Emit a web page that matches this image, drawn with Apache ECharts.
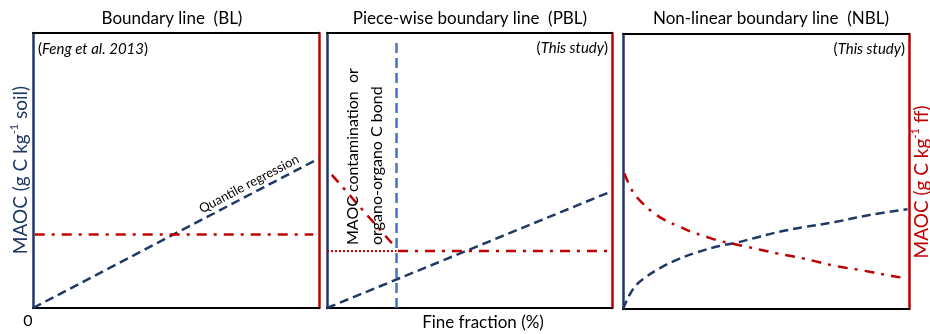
<!DOCTYPE html>
<html>
<head>
<meta charset="utf-8">
<script src="https://cdn.jsdelivr.net/npm/echarts@6/dist/echarts.min.js"></script>
<style>html,body{margin:0;padding:0;background:#fff}#c{width:930px;height:334px}</style>
</head>
<body>
<div id="c"></div>
<script>
// ---- Data (relative units 0-100 on both axes in each panel) ----
const panelTitles = ['Boundary line  (BL)', 'Piece-wise boundary line  (PBL)', 'Non-linear boundary line  (NBL)'];
const xAxisLabel = 'Fine fraction (%)';
const originLabel = '0';

// Panel 1: BL
const bl_quantile = [[0, 0], [100, 54.4]];
const bl_red = [[0.6, 26.7], [98, 26.7]];

// Panel 2: PBL
const pbl_blue = [[0, 0], [100, 42.5]];
const pbl_vertical = [[24.4, 0], [24.4, 96.7]];
const pbl_redDotted = [[0, 20.7], [24.4, 20.7]];
const pbl_redDiag = [[1.7, 48.4], [23.9, 22.2]];
const pbl_redFlat = [[24.9, 20.7], [100, 20.7]];

// Panel 3: NBL
const nbl_blue = [[0, 0], [2.3, 5.1], [4.6, 8.7], [8.1, 11.7], [12.8, 14.8], [18.6, 17.8], [25.6, 20.5], [33.7, 22.9], [39.6, 24.1], [47.7, 26.3], [54.7, 28.1], [62.9, 29.7], [74.5, 31.7], [86.2, 34.2], [99.5, 36.3]];
const nbl_red = [[0.5, 49.3], [3.4, 42.7], [6.9, 38.4], [10.4, 35.2], [14.5, 32.4], [19.2, 30.2], [23.8, 28.1], [28.5, 26.5], [33.7, 24.8], [43.1, 22.7], [53.6, 20.3], [62.9, 18.4], [74.5, 15.6], [82.7, 14.2], [92.6, 12.3], [97, 11.5]];

// ---- Styles ----
const NAVY = '#1f3864', RED = '#c00000', LBLUE = '#4472c4', BLACK = '#000';
const FONT = 'Lato, "Open Sans", sans-serif';
const DASH = [9, 5], DASHDOT = [10, 7, 3, 7], DOT = [2, 2];

const grids = [
  { left: 33, top: 33, width: 286, height: 275 },
  { left: 327, top: 33, width: 285, height: 275 },
  { left: 623, top: 34, width: 286, height: 275 }
];

const xAxes = [], yAxes = [];
grids.forEach((g, i) => {
  const base = { min: 0, max: 100, axisTick: { show: false }, axisLabel: { show: false }, splitLine: { show: false }, gridIndex: i };
  const al = (c, w) => ({ show: true, onZero: false, lineStyle: { color: c, width: w } });
  xAxes.push(Object.assign({ type: 'value', position: 'bottom', axisLine: al(BLACK, 2) }, base));
  xAxes.push(Object.assign({ type: 'value', position: 'top', axisLine: al(BLACK, 2) }, base));
  yAxes.push(Object.assign({ type: 'value', position: 'left', axisLine: al(NAVY, 2.5) }, base));
  yAxes.push(Object.assign({ type: 'value', position: 'right', axisLine: al(RED, 2.5) }, base));
});

function line(data, panel, color, type, width, smooth) {
  return {
    type: 'line', data: data, xAxisIndex: panel * 2, yAxisIndex: panel * 2,
    symbol: 'none', smooth: smooth || false, clip: false, silent: true,
    lineStyle: { color: color, type: type, width: width }, z: 3
  };
}

const series = [
  line(bl_quantile, 0, NAVY, DASH, 2.5),
  line(bl_red, 0, RED, DASHDOT, 2.5),
  line(pbl_vertical, 1, LBLUE, [10, 5], 2.5),
  line(pbl_blue, 1, NAVY, DASH, 2.5),
  line(pbl_redDotted, 1, RED, DOT, 2),
  line(pbl_redDiag, 1, RED, DASHDOT, 2.5),
  line(pbl_redFlat, 1, RED, DASHDOT, 2.5),
  line(nbl_blue, 2, NAVY, DASH, 2.5, 0.4),
  line(nbl_red, 2, RED, DASHDOT, 2.5, 0.4)
];

function txt(x, y, style, rotation) {
  return { type: 'text', x: x, y: y, rotation: rotation || 0, silent: true, z: 10,
    style: Object.assign({ fontFamily: FONT, fill: BLACK, align: 'center', verticalAlign: 'middle' }, style) };
}
const cite = (t) => ({ text: '{n|(}{i|' + t + '}{n|)}', rich: { n: { fontSize: 15, fontFamily: FONT }, i: { fontSize: 15, fontStyle: 'italic', fontFamily: FONT } } });

const graphics = [
  txt(172, 19, { text: panelTitles[0], fontSize: 17 }),
  txt(470, 19, { text: panelTitles[1], fontSize: 17 }),
  txt(771, 19, { text: panelTitles[2], fontSize: 17 }),
  txt(38, 49, Object.assign({ align: 'left' }, cite('Feng et al. 2013'))),
  txt(608, 48, Object.assign({ align: 'right' }, cite('This study'))),
  txt(905, 49, Object.assign({ align: 'right' }, cite('This study'))),
  txt(249, 184, { text: 'Quantile regression', fontSize: 13 }, Math.atan(150 / 285)),
  txt(353, 245, { text: 'MAOC contamination  or', fontSize: 16, align: 'left' }, Math.PI / 2),
  txt(377, 245, { text: 'organo-organo C bond', fontSize: 16, align: 'left' }, Math.PI / 2),
  txt(21, 170, { text: '{a|MAOC (g C kg}{s|-1}{a| soil)}', rich: { a: { fontSize: 19, fill: NAVY, fontFamily: FONT, lineHeight: 24 }, s: { fontSize: 11, fill: NAVY, fontFamily: FONT, lineHeight: 24, verticalAlign: 'top' } } }, Math.PI / 2),
  txt(922, 182, { text: '{a|MAOC (g C kg}{s|-1}{a| ff)}', rich: { a: { fontSize: 19, fill: RED, fontFamily: FONT, lineHeight: 24 }, s: { fontSize: 11, fill: RED, fontFamily: FONT, lineHeight: 24, verticalAlign: 'top' } } }, Math.PI / 2),
  txt(28, 321, { text: originLabel, fontSize: 16 }),
  txt(483, 323, { text: xAxisLabel, fontSize: 17 })
];

const chart = echarts.init(document.getElementById('c'), null, { renderer: 'canvas' });
chart.setOption({
  animation: false,
  backgroundColor: '#fff',
  grid: grids,
  xAxis: xAxes,
  yAxis: yAxes,
  series: series,
  graphic: graphics
});
</script>
</body>
</html>
